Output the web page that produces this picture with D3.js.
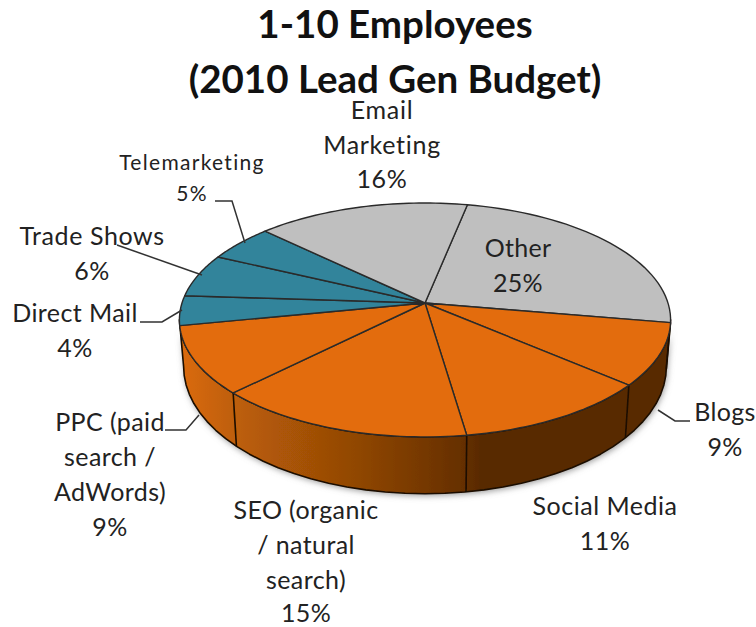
<!DOCTYPE html>
<html><head><meta charset="utf-8">
<script src="https://cdn.jsdelivr.net/npm/d3@7/dist/d3.min.js"></script>
<style>html,body{margin:0;padding:0;background:#fff}svg{display:block}text{font-family:Lato,"Open Sans",sans-serif;fill:#222}</style>
</head><body><div id="c"></div>
<script>
(function(){
const categories=["Other","Blogs","Social Media","SEO (organic / natural search)","PPC (paid search / AdWords)","Direct Mail","Trade Shows","Telemarketing","Email Marketing"];
const categoryLines=[["Other"],["Blogs"],["Social Media"],["SEO (organic","/ natural","search)"],["PPC (paid","search /","AdWords)"],["Direct Mail"],["Trade Shows"],["Telemarketing"],["Email","Marketing"]];
const values=[24.5,8.6,11.4,14.9,9.4,4.1,6.0,5.1,16.1];
const groups=["gray","orange","orange","orange","orange","teal","teal","teal","gray"];
const palette={gray:"#BFBFBF",orange:"#E36C09",teal:"#31849B"};
const W=756,H=627;
const svg=d3.select("#c").append("svg").attr("width",W).attr("height",H);
const defs=svg.append("defs");
const g=defs.append("linearGradient").attr("id","wall").attr("gradientUnits","userSpaceOnUse").attr("x1",180).attr("x2",480).attr("y1",0).attr("y2",0);
[[0,"#DB6A08"],[0.18,"#BE5F08"],[0.6,"#8F4605"],[0.95,"#652F02"],[1,"#592B00"]].forEach(s=>g.append("stop").attr("offset",s[0]).attr("stop-color",s[1]));
const f=defs.append("filter").attr("id","sh").attr("x","-10%").attr("y","-10%").attr("width","120%").attr("height","130%");
f.append("feGaussianBlur").attr("stdDeviation",3);
const soft=defs.append("filter").attr("id","soft");
soft.append("feGaussianBlur").attr("stdDeviation",0.35);

// perspective disc
const cx=425,cy=303,R=243,A=114.5,k=0.145;
const topPt=a=>{const x=Math.sin(a),y=-Math.cos(a),w=1-k*y;return [cx+R*x/w,cy+A*y/w];};
const botPt=a=>{const p=topPt(a),y=-Math.cos(a);return [cx+(p[0]-cx)*0.983,cy+(p[1]-cy)*0.98+44.5+15*y];};
const deg=d=>d*Math.PI/180;
const arcs=d3.pie().sort(null).startAngle(deg(11.5)).endAngle(deg(371.5))(values);
const line=d3.line();
const samples=(a0,a1)=>d3.range(0,41).map(i=>a0+(a1-a0)*i/40);

const visible0=deg(90+8.3),visible1=deg(90+171.7);
const wallPts=samples(visible0,visible1).map(topPt).concat(samples(visible0,visible1).reverse().map(botPt));
const root=svg.append("g").attr("filter","url(#soft)");
root.append("path").attr("d",line(wallPts)+"Z").attr("transform","translate(1,2)").attr("fill","#999").attr("filter","url(#sh)");
root.append("path").attr("d",line(wallPts)+"Z").attr("fill","url(#wall)").attr("stroke","#1c0e00").attr("stroke-width",1.6).attr("stroke-linejoin","round");
arcs.forEach(d=>{ if(d.startAngle>visible0+0.01&&d.startAngle<visible1-0.3){
  root.append("path").attr("d",line([topPt(d.startAngle),botPt(d.startAngle)])).attr("stroke","#1c0e00").attr("stroke-width",1.6).attr("fill","none");
}});
root.selectAll("path.slice").data(arcs).join("path").attr("class","slice")
  .attr("d",d=>line([[cx,cy]].concat(samples(d.startAngle,d.endAngle).map(topPt)))+"Z")
  .attr("fill",(d,i)=>palette[groups[i]]).attr("stroke","#2b2b2b").attr("stroke-width",1.4).attr("stroke-linejoin","round");

// leader lines
const leaders=[
 [[215,201],[232,201],[245,243]],
 [[117,245],[202,275]],
 [[140,322],[162,322],[182,310]],
 [[165,430],[186,430],[199,415]],
 [[690,421],[675,421],[658,410]]
];
root.selectAll("path.lead").data(leaders).join("path").attr("class","lead").attr("d",line).attr("fill","none").attr("stroke","#333").attr("stroke-width",1.5);

// text
const titleLines=[["1-10 Employees",395,38],["(2010 Lead Gen Budget)",395,93]];
svg.selectAll("text.t").data(titleLines).join("text").attr("class","t").attr("x",d=>d[1]).attr("y",d=>d[2]).attr("text-anchor","middle").attr("font-size",38.5).attr("font-weight",700).style("fill","#111").text(d=>d[0]);

// label anchors per category: centre x, first baseline, line step, size, spacing
const anchors=[[518,257,35,25,0.3],[725,421,35,25,0.3],[605,515,35,25,0.5],[306,519,35,25,0.4],[110,431,35,25,0.4],[75,322,35,25,0.4],[92,245,35,25,0.6],[192,170,31,21,1.3],[382,119,34.5,25,0.7]];
const labels=[];
categories.forEach((c,i)=>{
  const a=anchors[i];
  categoryLines[i].concat(Math.round(values[i])+"%").forEach((t,j)=>labels.push({t,x:a[0],y:a[1]+j*a[2],s:a[3],ls:a[4]}));
});
labels.forEach(d=>{ if(d.t==="15%") d.y=622; });
svg.selectAll("text.l").data(labels).join("text").attr("class","l").attr("x",d=>d.x).attr("y",d=>d.y).attr("text-anchor","middle").attr("font-size",d=>d.s).style("letter-spacing",d=>d.ls+"px").text(d=>d.t);
})();
</script></body></html>
